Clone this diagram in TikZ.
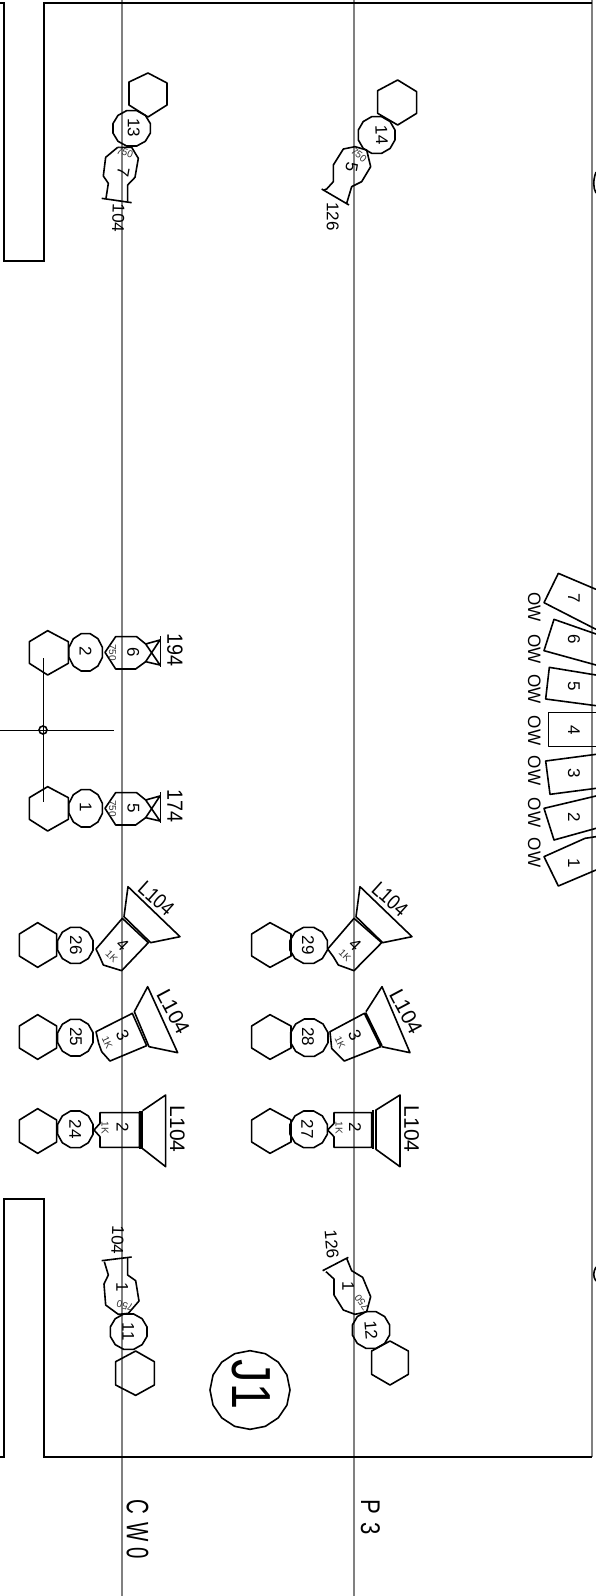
\documentclass[tikz,border=0pt]{standalone}
\usepackage{fontspec}
\setmainfont{Liberation Sans}
\newcommand\roundel[4]{\draw[shp] plot[samples at={15,45,...,345}] ({#1+#3*cos(\x)},{#2+#4*sin(\x)}) -- cycle;}
\tikzset{
  shp/.style={draw=black,line width=1.6pt,line join=round},
  frm/.style={draw=black,line width=1.9pt},
  rail/.style={draw=black!50,line width=1.8pt},
  zoomed/.style={shift={#1},x=0.33333pt,y=-0.33333pt},
  lbl/.style={rotate=#1,inner sep=0pt,text=black,font=\fontsize{17}{17}\selectfont},
  lbm/.style={rotate=#1,inner sep=0pt,text=black,font=\fontsize{21}{21}\selectfont},
  lbd/.style={rotate=#1,inner sep=0pt,text=black,font=\fontsize{21}{21}\selectfont,xscale=.85,transform shape},
  lbb/.style={rotate=#1,inner sep=0pt,text=black,font=\fontsize{22}{22}\selectfont,xscale=.9,transform shape},
  lbs/.style={rotate=#1,inner sep=0pt,text=black!80,font=\fontsize{10}{10}\selectfont},
  lbo/.style={rotate=-90,inner sep=0pt,text=black,font=\fontsize{18}{18}\selectfont,xscale=.95,transform shape},
}
\begin{document}
\begin{tikzpicture}[x=1pt,y=-1pt]
\useasboundingbox (0,0) rectangle (596,1596);
\fill[white] (0,0) rectangle (596,1596);
% rails
\draw[rail] (122,0) -- (122,1596);
\draw[rail] (354,0) -- (354,1596);
\draw[rail] (592,0) -- (592,1457);
% frame
\draw[frm] (0,3) -- (4,3) -- (4,261) -- (44,261) -- (44,3) -- (592,3);
\draw[frm] (0,1457) -- (4,1457) -- (4,1199) -- (44,1199) -- (44,1457) -- (592,1457);
\draw[shp] (596,172) .. controls (593,180) and (593,188) .. (596,193);
\draw[shp] (596,1267) .. controls (593,1272) and (593,1277) .. (596,1281);

% group 13 / 7
\draw[shp] (148,73) -- (167,83) -- (167,105) -- (148,117) -- (129,105) -- (129,82) -- cycle;
\begin{scope}[zoomed={(90,60)}]
  \roundel{125}{205}{58}{55}
  \node[lbl=-90] (n13) at (131,203) {13};
  \draw[shp] (83,262) -- (47,292) -- (40,348) -- (55,370) -- (48,415);
  \draw[shp] (35,415) -- (125,428);
  \draw[shp] (113,425) -- (113,375) -- (135,352) -- (145,295) -- (125,262) -- (83,262);
  \node[lbl=-100] (n7) at (100,338) {7};
  \node[lbs=-20] (v7) at (105,278) {750};
  \node[lbl=-92] (w104a) at (85,475) {104};
\end{scope}

% group 14 / 5
\begin{scope}[zoomed={(310,70)}]
  \draw[shp] (263,30) -- (320,65) -- (320,130) -- (263,165) -- (203,130) -- (203,62) -- cycle;
  \roundel{200}{195}{57}{57}
  \node[lbl=-88] (n14) at (215,195) {14};
  \draw[shp] (42,360) -- (50,357) -- (70,335) -- (70,285) -- (100,237) -- (135,230) -- (170,240) -- (182,290) -- (155,335) -- (125,350) -- (110,400);
  \draw[shp] (35,357) -- (117,405);
  \node[lbl=-100] (n5a) at (125,292) {5};
  \node[lbs=-40] (v5a) at (147,255) {750};
  \node[lbl=-90] (w126a) at (68,440) {126};
\end{scope}

% group 194 / 174
\begin{scope}[zoomed={(0,620)}]
  \foreach \d/\a/\b/\w/\t in {0/2/6/194/a,468/1/5/174/b}{
    \begin{scope}[yshift=-\d*0.33333pt]
      \draw[shp] (143,32) -- (205,65) -- (205,130) -- (143,165) -- (88,130) -- (88,65) -- cycle;
      \roundel{257}{97}{52}{58}
      \node[lbl=-90] (c\t) at (257,95) {\a};
      \draw[shp] (437,72) -- (410,50) -- (347,50) -- (315,97) -- (347,147) -- (407,147) -- (437,125);
      \draw[shp] (437,72) -- (480,135) -- (437,125) -- (480,60) -- (437,72);
      \draw[shp] (482,48) -- (482,142);
      \node[lbl=-90] (d\t) at (400,97) {\b};
      \node[lbs=-90] (v\t) at (338,97) {750};
      \node[lbb=-90] (w\t) at (525,90) {\w};
    \end{scope}
  }
  \coordinate (busT) at (131,115);
  \coordinate (busB) at (131,545);
  \coordinate (busL) at (0,332);
  \coordinate (busR) at (343,332);
  \draw[shp] (busT) -- (busB);
  \draw[shp] (busL) -- (busR);
  \node[draw=black,line width=1.6pt,circle,minimum size=8pt,inner sep=0pt] (junc) at (129,330) {};
\end{scope}

% OW connectors
\begin{scope}[zoomed={(500,560)}]
  \draw[shp] (288,88) -- (175,40) -- (132,128) -- (288,208);
  \draw[shp] (288,222) -- (162,178) -- (132,272) -- (288,315);
  \draw[shp] (288,345) -- (148,322) -- (137,417) -- (288,437);
  \draw[shp] (288,458) -- (145,458) -- (145,560) -- (288,560);
  \draw[shp] (288,583) -- (137,603) -- (150,703) -- (288,685);
  \draw[shp] (288,708) -- (132,745) -- (162,840) -- (288,805);
  \draw[shp] (288,830) -- (255,835) -- (132,890) -- (175,978) -- (288,930);
  \foreach \n/\dy/\oy in {7/115/141,6/238/267,5/378/387,4/510/512,3/640/632,2/772/758,1/910/878}{
    \node[lbl=-90] (p\n) at (222,\dy) {\n};
    \node[lbo] (o\n) at (103,\oy) {OW};
  }
\end{scope}

% left speakers
\begin{scope}[zoomed={(0,870)}]
  \draw[shp] (113,158) -- (170,192) -- (170,258) -- (113,292) -- (58,258) -- (58,192) -- cycle;
  \roundel{226}{226}{55}{56}
  \node[lbl=-90] (n26) at (228,225) {26};
  \draw[shp] (288,237) -- (367,145) -- (445,218) -- (365,302) -- (310,285) -- (300,262) -- cycle;
  \draw[shp] (372,140) -- (384,50) -- (540,200) -- (452,218) -- cycle;
  \node[lbl=-45] (s4a) at (368,225) {4};
  \node[lbs=-45] (k4a) at (335,258) {1K};
  \node[lbd=-42] (l4a) at (469,85) {L104};

  \draw[shp] (113,434) -- (170,468) -- (170,534) -- (113,568) -- (58,534) -- (58,468) -- cycle;
  \roundel{226}{503}{55}{57}
  \node[lbl=-90] (n25) at (228,500) {25};
  \draw[shp] (288,485) -- (397,430) -- (440,527) -- (330,573) -- (305,545) -- (296,520) -- cycle;
  \draw[shp] (403,425) -- (443,350) -- (533,548) -- (447,530) -- cycle;
  \node[lbl=-65] (s3a) at (368,495) {3};
  \node[lbs=-65] (k3a) at (322,517) {1K};
  \node[lbm=-62] (l3a) at (520,425) {L104};

  \draw[shp] (113,716) -- (170,750) -- (170,816) -- (113,850) -- (58,816) -- (58,750) -- cycle;
  \roundel{226}{778}{55}{57}
  \node[lbl=-90] (n24) at (226,778) {24};
  \draw[shp] (300,728) -- (418,728) -- (418,832) -- (300,832) -- (300,800) -- (282,780) -- (300,760) -- cycle;
  \draw[shp,line width=3.3pt] (423,722) -- (423,836);
  \draw[shp] (428,722) -- (497,675) -- (497,890) -- (428,836);
  \node[lbl=-90] (s2a) at (368,773) {2};
  \node[lbs=-90] (k2a) at (315,773) {1K};
  \node[lbm=-90] (l2a) at (532,777) {L104};
\end{scope}

% right speakers
\begin{scope}[zoomed={(230,870)}]
  \draw[shp] (120,158) -- (183,192) -- (183,258) -- (120,292) -- (65,258) -- (65,192) -- cycle;
  \roundel{236}{226}{58}{56}
  \node[lbl=-90] (n29) at (234,225) {29};
  \draw[shp] (293,237) -- (372,145) -- (455,218) -- (372,302) -- (325,285) -- (310,260) -- cycle;
  \draw[shp] (378,140) -- (390,50) -- (546,200) -- (458,218) -- cycle;
  \node[lbl=-45] (s4b) at (375,225) {4};
  \node[lbs=-45] (k4b) at (345,255) {1K};
  \node[lbd=-42] (l4b) at (480,87) {L104};

  \draw[shp] (120,434) -- (183,468) -- (183,534) -- (120,568) -- (65,534) -- (65,468) -- cycle;
  \roundel{238}{503}{58}{58}
  \node[lbl=-90] (n28) at (234,500) {28};
  \draw[shp] (300,485) -- (403,430) -- (452,530) -- (343,573) -- (305,535) -- cycle;
  \draw[shp,line width=2.4pt] (406,428) -- (455,528);
  \draw[shp] (408,425) -- (456,350) -- (540,548) -- (455,530);
  \node[lbl=-65] (s3b) at (375,495) {3};
  \node[lbs=-65] (k3b) at (330,517) {1K};
  \node[lbm=-62] (l3b) at (528,425) {L104};

  \draw[shp] (120,716) -- (183,750) -- (183,816) -- (120,850) -- (65,816) -- (65,750) -- cycle;
  \roundel{236}{778}{58}{57}
  \node[lbl=-90] (n27) at (232,778) {27};
  \draw[shp] (312,728) -- (425,728) -- (425,832) -- (312,832) -- (312,800) -- (293,780) -- (312,760) -- cycle;
  \draw[shp,line width=2pt] (428,720) -- (428,838);
  \draw[shp] (438,720) -- (510,675) -- (510,890) -- (438,838) -- cycle;
  \node[lbl=-90] (s2b) at (375,773) {2};
  \node[lbs=-90] (k2b) at (327,773) {1K};
  \node[lbm=-90] (l2b) at (545,777) {L104};
\end{scope}

% group 11 / 1
\begin{scope}[zoomed={(90,1215)}]
  \draw[shp] (137,408) -- (193,440) -- (193,510) -- (137,541) -- (77,510) -- (77,440) -- cycle;
  \roundel{116}{350}{57}{55}
  \node[lbl=-90] (n11) at (115,350) {11};
  \draw[shp] (35,137) -- (125,126);
  \draw[shp] (43,140) -- (55,180) -- (42,207) -- (47,270) -- (85,298) -- (115,295) -- (147,258) -- (137,197) -- (113,180) -- (113,128);
  \node[lbl=-90] (n1a) at (97,218) {1};
  \node[lbs=165] (v1a) at (105,273) {750};
  \node[lbl=-92] (w104b) at (83,75) {104};
\end{scope}

% group 12 / 1
\begin{scope}[zoomed={(310,1215)}]
  \draw[shp] (240,378) -- (295,408) -- (295,478) -- (240,510) -- (185,478) -- (185,408) -- cycle;
  \roundel{183}{345}{58}{57}
  \node[lbl=-85] (n12) at (183,345) {12};
  \draw[shp] (38,167) -- (115,127);
  \draw[shp] (48,170) -- (72,192) -- (72,240) -- (100,285) -- (135,298) -- (170,290) -- (182,245) -- (158,187) -- (125,167) -- (110,130);
  \node[lbl=-90] (n1b) at (115,213) {1};
  \node[lbs=125] (v1b) at (155,263) {750};
  \node[lbl=-85] (w126b) at (65,88) {126};
\end{scope}

% J1 and rail names
\begin{scope}[zoomed={(110,1340)}]
  \draw[shp] plot[samples at={0,22.5,...,337.5}] ({420+120*cos(\x)},{150+118*sin(\x)}) -- cycle;
  \node[rotate=-90,xscale=.85,transform shape,inner sep=0pt,font=\fontsize{55}{55}\selectfont] (j1) at (424,134) {J1};
  \node[rotate=-90,xscale=.66,transform shape,inner sep=0pt,font=\fontsize{31}{31}\selectfont] (cw0) at (83,567) {C\kern13pt W\kern8pt 0};
  \node[rotate=-90,xscale=.82,transform shape,inner sep=0pt,font=\fontsize{27}{27}\selectfont] (p3) at (781,530) {P\kern10pt 3};
\end{scope}
\end{tikzpicture}
\end{document}
